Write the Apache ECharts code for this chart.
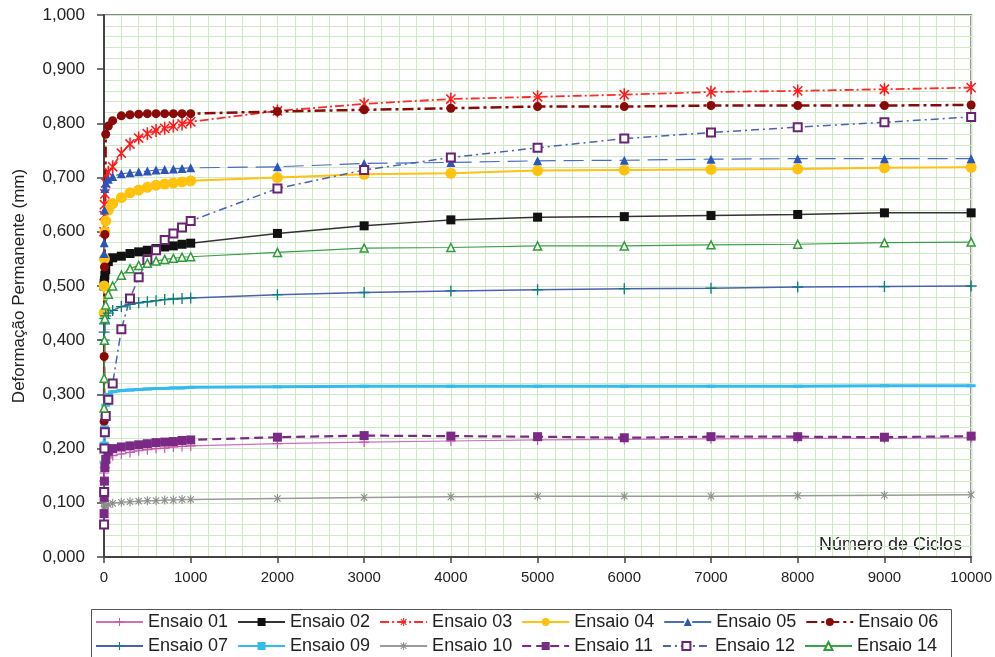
<!DOCTYPE html>
<html>
<head>
<meta charset="utf-8">
<script src="https://cdn.jsdelivr.net/npm/echarts@6/dist/echarts.min.js"></script>
<style>
html,body{margin:0;padding:0;background:#fff;}
#chart{width:995px;height:657px;}
</style>
</head>
<body>
<div id="chart"></div>
<script>
// Cycles (x values) shared by all tests
const cycles = [1, 2, 5, 10, 20, 50, 100, 200, 300, 400, 500, 600, 700, 800, 900, 1000,
  2000, 3000, 4000, 5000, 6000, 7000, 8000, 9000, 10000];

const ensaio01 = [0.120, 0.140, 0.155, 0.165, 0.175, 0.183, 0.187, 0.190, 0.193, 0.196, 0.198, 0.200, 0.201, 0.203, 0.204, 0.205,
  0.209, 0.212, 0.214, 0.216, 0.217, 0.218, 0.219, 0.219, 0.220];
const ensaio02 = [0.500, 0.505, 0.510, 0.520, 0.530, 0.545, 0.552, 0.555, 0.560, 0.563, 0.566, 0.569, 0.572, 0.574, 0.577, 0.579,
  0.597, 0.611, 0.622, 0.627, 0.628, 0.630, 0.632, 0.635, 0.635];
const ensaio03 = [0.600, 0.630, 0.650, 0.670, 0.690, 0.710, 0.720, 0.745, 0.762, 0.773, 0.781, 0.787, 0.791, 0.795, 0.799, 0.803,
  0.823, 0.836, 0.845, 0.849, 0.853, 0.858, 0.860, 0.863, 0.866];
const ensaio04 = [0.450, 0.500, 0.550, 0.600, 0.620, 0.640, 0.652, 0.663, 0.672, 0.677, 0.682, 0.686, 0.688, 0.690, 0.692, 0.694,
  0.700, 0.706, 0.708, 0.713, 0.714, 0.715, 0.716, 0.718, 0.719];
const ensaio05 = [0.560, 0.580, 0.640, 0.680, 0.690, 0.697, 0.702, 0.707, 0.709, 0.711, 0.712, 0.714, 0.715, 0.716, 0.717, 0.718,
  0.720, 0.726, 0.728, 0.731, 0.732, 0.734, 0.735, 0.735, 0.735];
const ensaio06 = [0.250, 0.370, 0.535, 0.595, 0.780, 0.795, 0.805, 0.814, 0.816, 0.817, 0.818, 0.818, 0.818, 0.818, 0.818, 0.818,
  0.822, 0.825, 0.828, 0.831, 0.831, 0.833, 0.833, 0.833, 0.834];
const ensaio07 = [0.400, 0.415, 0.430, 0.440, 0.445, 0.450, 0.455, 0.462, 0.466, 0.469, 0.471, 0.473, 0.475, 0.476, 0.477, 0.478,
  0.484, 0.488, 0.491, 0.493, 0.495, 0.496, 0.498, 0.499, 0.500];
const ensaio09 = [0.175, 0.210, 0.240, 0.260, 0.280, 0.300, 0.305, 0.307, 0.308, 0.309, 0.310, 0.311, 0.311, 0.312, 0.312, 0.313,
  0.314, 0.315, 0.315, 0.315, 0.315, 0.315, 0.315, 0.316, 0.316];
const ensaio10 = [0.088, 0.090, 0.092, 0.094, 0.095, 0.097, 0.099, 0.101, 0.102, 0.103, 0.104, 0.104, 0.105, 0.105, 0.106, 0.106,
  0.108, 0.110, 0.111, 0.112, 0.112, 0.112, 0.113, 0.114, 0.115];
const ensaio11 = [0.080, 0.110, 0.140, 0.165, 0.180, 0.195, 0.200, 0.203, 0.205, 0.207, 0.209, 0.211, 0.212, 0.213, 0.215, 0.216,
  0.221, 0.224, 0.223, 0.222, 0.220, 0.222, 0.222, 0.221, 0.223];
const ensaio12 = [0.060, 0.120, 0.200, 0.230, 0.260, 0.290, 0.320, 0.420, 0.477, 0.516, 0.548, 0.566, 0.585, 0.597, 0.608, 0.620,
  0.680, 0.714, 0.737, 0.755, 0.772, 0.783, 0.793, 0.802, 0.812];
const ensaio14 = [0.275, 0.330, 0.400, 0.440, 0.465, 0.485, 0.500, 0.520, 0.532, 0.538, 0.542, 0.546, 0.549, 0.551, 0.553, 0.554,
  0.562, 0.570, 0.571, 0.574, 0.574, 0.576, 0.577, 0.580, 0.581];

const xTicks = ['0','1000','2000','3000','4000','5000','6000','7000','8000','9000','10000'];

const PLUS = 'path://M-1.2,-10L1.2,-10L1.2,-1.2L10,-1.2L10,1.2L1.2,1.2L1.2,10L-1.2,10L-1.2,1.2L-10,1.2L-10,-1.2L-1.2,-1.2Z';
const STAR = 'path://M-1.2,-10L1.2,-10L1.2,10L-1.2,10Z M-6.2,-7.9L7.9,6.2L6.2,7.9L-7.9,-6.2Z M6.2,-7.9L7.9,-6.2L-6.2,7.9L-7.9,6.2Z M-10,-0.001L-10,0.001Z M10,-0.001L10,0.001Z';

function pts(arr){ return cycles.map((c,i)=>[c, arr[i]]); }

function mk(name, arr, o){
  return {
    name: name, type: 'line', data: pts(arr),
    symbol: o.symbol, symbolSize: o.size, symbolKeepAspect: true,
    showSymbol: true, showAllSymbol: true,
    lineStyle: {color: o.line, width: o.width || 1.5, type: o.dash || 'solid'},
    itemStyle: {color: o.fill || o.color, borderColor: o.border || o.color, borderWidth: o.bw || 0},
    z: o.z || 2
  };
}

const series = [
  mk('Ensaio 01', ensaio01, {color:'#c955ad', line:'#d070bb', symbol: PLUS, size: 10, width: 1.2}),
  mk('Ensaio 02', ensaio02, {color:'#111111', line:'#333333', symbol:'rect', size: 9, width: 1.5}),
  mk('Ensaio 03', ensaio03, {color:'#ff1a1a', line:'#ff2a2a', symbol: STAR, size: 13, width: 1.8, dash:[9,3,2,3]}),
  mk('Ensaio 04', ensaio04, {color:'#ffc20e', line:'#ffc20e', symbol:'circle', size: 11, width: 2}),
  mk('Ensaio 05', ensaio05, {color:'#2b55b8', line:'#4a6cc0', symbol:'triangle', size: 9, width: 1.2, dash:[20,8]}),
  mk('Ensaio 06', ensaio06, {color:'#8a0a0a', line:'#8a0a0a', symbol:'circle', size: 9, width: 2.5, dash:[11,4,3,4]}),
  mk('Ensaio 07', ensaio07, {color:'#0a7d7a', line:'#4a62b0', symbol: PLUS, size: 11, width: 1.5}),
  mk('Ensaio 09', ensaio09, {color:'#33bbee', line:'#33bbee', symbol:'rect', size:[9,3], width: 3}),
  mk('Ensaio 10', ensaio10, {color:'#8c8c8c', line:'#9a9a9a', symbol: STAR, size: 9, width: 1.5}),
  mk('Ensaio 11', ensaio11, {color:'#7a2a85', line:'#7a2a85', symbol:'rect', size: 9, width: 2.2, dash:[9,5]}),
  mk('Ensaio 12', ensaio12, {color:'#6a2272', fill:'#ffffff', border:'#6a2272', bw: 2, line:'#4a62b0', symbol:'rect', size: 8, width: 1.5, dash:[8,4,2,4]}),
  mk('Ensaio 14', ensaio14, {color:'#2e9b3e', fill:'#ffffee', border:'#2e9b3e', bw: 1.5, line:'#3aa04a', symbol:'triangle', size: 8, width: 1.2})
];

const names = series.map(s=>s.name);
const legendBase = {
  left: 95, itemWidth: 47, itemHeight: 10, itemGap: 9, padding: 0,
  textStyle: {color: '#222222', fontSize: 18, padding: [0, 0, 0, 0]}
};

const chart = echarts.init(document.getElementById('chart'), null, {renderer:'canvas'});
chart.setOption({
  animation: false,
  backgroundColor: '#ffffff',
  textStyle: {fontFamily: 'Liberation Sans, Arial, sans-serif'},
  grid: {left: 104, right: 23, top: 15, bottom: 100, show: true, borderColor: '#888888', borderWidth: 2, backgroundColor: 'transparent'},
  xAxis: {
    type: 'value', min: 0, max: 10000, interval: 1000,
    axisLine: {show: true, onZero: false, lineStyle: {color: '#444444', width: 2}},
    axisTick: {show: true, length: 6, lineStyle: {color: '#444444', width: 1.5}},
    axisLabel: {color: '#222222', fontSize: 15, margin: 13, formatter: (v)=> xTicks[Math.round(v/1000)]},
    splitLine: {show: true, lineStyle: {color: '#cfe8c6', width: 1}},
    minorTick: {show: false, splitNumber: 5},
    minorSplitLine: {show: true, lineStyle: {color: '#cfe8c6', width: 1}}
  },
  yAxis: {
    type: 'value', min: 0, max: 1, interval: 0.1,
    name: 'Deformação Permanente (mm)', nameLocation: 'middle', nameGap: 76,
    nameTextStyle: {color: '#222222', fontSize: 17},
    axisLine: {show: true, onZero: false, lineStyle: {color: '#444444', width: 2}},
    axisTick: {show: true, length: 7, lineStyle: {color: '#444444', width: 1.5}},
    axisLabel: {color: '#222222', fontSize: 17, margin: 19, formatter: (v)=> v.toFixed(3).replace('.', ',')},
    splitLine: {show: true, lineStyle: {color: '#cfe8c6', width: 1}},
    minorTick: {show: false, splitNumber: 5},
    minorSplitLine: {show: true, lineStyle: {color: '#cfe8c6', width: 1}}
  },
  legend: [
    Object.assign({}, legendBase, {top: 613, data: names.slice(0, 6)}),
    Object.assign({}, legendBase, {top: 637, data: names.slice(6)})
  ],
  graphic: [
    {
      type: 'rect', left: 89, top: 607, z: 0,
      shape: {x: 0, y: 0, width: 860, height: 55},
      style: {fill: 'none', stroke: '#555555', lineWidth: 1}
    },
    {
      type: 'text', right: 33, top: 536,
      style: {text: 'Número de Ciclos', fill: '#222222', font: '18px "Liberation Sans", Arial, sans-serif'}
    }
  ],
  series: series
});
</script>
</body>
</html>
